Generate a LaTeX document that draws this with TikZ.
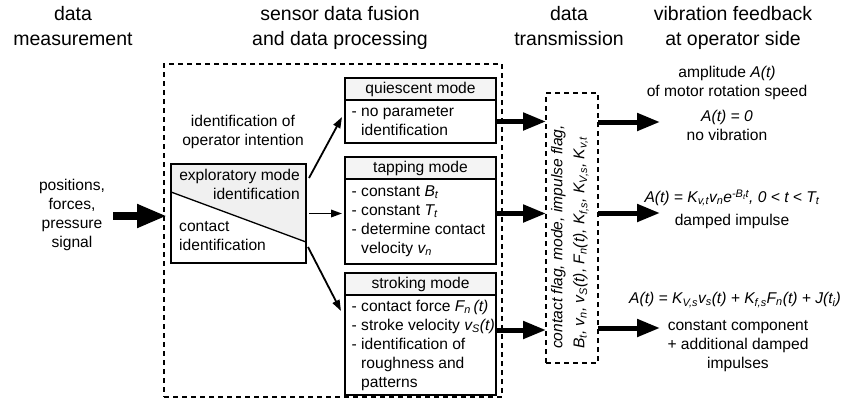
\documentclass[tikz,border=0pt]{standalone}
\usepackage{fontspec}
\setmainfont{Liberation Sans}
\usetikzlibrary{arrows.meta,backgrounds}
\newcommand\sbs[1]{\textsubscript{#1}}
\newcommand\sps[1]{\textsuperscript{#1}}
\tikzset{
  x=1pt, y=-1pt,
  body/.style={font=\fontsize{15.6}{19}\selectfont, inner sep=0pt},
  bodyit/.style={font=\fontsize{15.6}{19}\selectfont\itshape, inner sep=0pt},
  head/.style={font=\fontsize{19.5}{25}\selectfont, inner sep=0pt, anchor=base},
  dashbox/.style={draw, dash pattern=on 5pt off 4pt, line width=1.1pt, inner sep=0pt, outer sep=0pt, anchor=north west},
  modehead/.style={draw, line width=1.3pt, fill=gray!9, minimum width=151pt, minimum height=22pt,
    anchor=north west, inner sep=0pt, outer sep=0pt, font=\fontsize{15.6}{19}\selectfont},
  modebody/.style={draw, line width=1.3pt, minimum width=151pt, anchor=north west, inner sep=0pt, outer sep=0pt},
  identbox/.style={draw, line width=2.5pt, minimum width=135pt, minimum height=99pt, anchor=north west, inner sep=0pt, outer sep=0pt},
  thinarrow/.style={line width=1.8pt, -{Triangle[length=11pt,width=7.5pt]}},
  thickarrow/.style={line width=5pt, -{Triangle[length=23pt,width=17pt]}},
  bigarrow/.style={line width=7.5pt, -{Triangle[length=30pt,width=22pt]}},
}
\begin{document}
\begin{tikzpicture}
\useasboundingbox (0,0) rectangle (844,402);
% headers
\node[head] (h1a) at (73,20) {data};
\node[head] (h1b) at (73,45) {measurement};
\node[head] (h2a) at (340,20) {sensor data fusion};
\node[head] (h2b) at (340,45) {and data processing};
\node[head] (h3a) at (569,20) {data};
\node[head] (h3b) at (569,45) {transmission};
\node[head] (h4a) at (733,20) {vibration feedback};
\node[head] (h4b) at (733,45) {at operator side};
% input
\node[body, align=center] (inp) at (72,215) {positions,\\forces,\\pressure\\signal};
% fusion box
\node[dashbox, minimum width=338pt, minimum height=333pt] (fus) at (164,64) {};
\node[body, align=center] (intent) at (243,132) {identification of\\operator intention};
% identification box
\node[identbox] (id) at (171,164) {};
\begin{scope}[on background layer]
\fill[gray!12] (id.north west) -- (id.north east) -- ([yshift=21pt]id.south east) -- ([yshift=-28pt]id.north west) -- cycle;
\end{scope}
\draw[line width=1.3pt] ([yshift=-28pt]id.north west) -- ([yshift=21pt]id.south east);
\node[body, align=right, anchor=east] (expl) at (300,184) {exploratory mode\\identification};
\node[body, align=left, anchor=west] (cont) at (179,236) {contact\\identification};
% mode boxes
\node[modehead] (qh) at (345,78) {quiescent mode};
\node[modebody, minimum height=43pt] (qb) at (qh.south west) {};
\node[body, align=left, anchor=west] (qt) at ([xshift=6.5pt]qb.west) {- no parameter\\\phantom{- }identification};
\node[modehead] (th) at (345,157) {tapping mode};
\node[modebody, minimum height=85pt] (tb) at (th.south west) {};
\node[body, align=left, anchor=west] (tt) at ([xshift=6.5pt]tb.west) {- constant \textit{B\sbs{t}}\\- constant \textit{T\sbs{t}}\\- determine contact\\\phantom{- }velocity \textit{v\sbs{n}}};
\node[modehead] (sh) at (345,273) {stroking mode};
\node[modebody, minimum height=100pt] (sb) at (sh.south west) {};
\node[body, align=left, anchor=west] (st) at ([xshift=6.5pt]sb.west) {- contact force \textit{F\sbs{n}}\,\textit{(t)}\\- stroke velocity \textit{v\sbs{S}(t)}\\- identification of\\\phantom{- }roughness and\\\phantom{- }patterns};
% arrows from identification
\draw[thinarrow] ([xshift=3pt,yshift=-14pt]id.north east) -- ([xshift=-3pt,yshift=4.5pt]qb.west);
\draw[thinarrow] ([xshift=3pt]id.east) -- ([xshift=-3pt]id.east -| tb.west);
\draw[thinarrow] ([xshift=2pt,yshift=16pt]id.south east) -- ([xshift=-4pt,yshift=34pt]sb.west);
% input arrow
\coordinate (inS) at (113,216);
\draw[bigarrow] (inS) -- ([xshift=3pt]inS -| fus.west);
% transmission box
\node[dashbox, minimum width=52pt, minimum height=270pt] (tr) at (546,93) {};
\node[bodyit, rotate=90, align=left, anchor=west] (trt) at (570,349) {contact flag, mode, impulse flag,\\[3pt] B\sbs{t}, v\sbs{n}, v\sbs{S}(t), F\sbs{n}(t), K\sbs{f,s}, K\sbs{V,s}, K\sbs{v,t}};
\draw[thickarrow] (qb.east) -- (qb.east -| tr.west);
\draw[thickarrow] ([yshift=8pt]tb.east) -- ([yshift=8pt]tb.east -| tr.west);
\draw[thickarrow] ([yshift=15pt]sb.east) -- ([yshift=15pt]sb.east -| tr.west);
% outputs
\coordinate (e1) at (660,122);
\coordinate (e2) at (660,213);
\coordinate (e3) at (660,328);
\draw[thickarrow] (tr.east |- e1) -- (e1);
\draw[thickarrow] (tr.east |- e2) -- (e2);
\draw[thickarrow] (tr.east |- e3) -- (e3);
\node[body, align=center] (a1) at (727,82.5) {amplitude \textit{A(t)}\\of motor rotation speed};
\node[body, align=center] (a2) at (727,125) {\textit{A(t) = 0}\\no vibration};
\node[bodyit] (f2) at (732,198) {A(t) = K\sbs{v,t}v\sbs{n}e\sps{-B\sbs{t}t}, 0 < t < T\sbs{t}};
\node[body] (d2) at (732,221) {damped impulse};
\node[bodyit] (f3) at (735,300) {A(t) = K\sbs{V,s}v\sbs{s}(t) + K\sbs{f,s}F\sbs{n}(t) + J(t\sbs{i})};
\node[body, align=center] (c3) at (738,346) {constant component\\+ additional damped\\impulses};
\end{tikzpicture}
\end{document}
